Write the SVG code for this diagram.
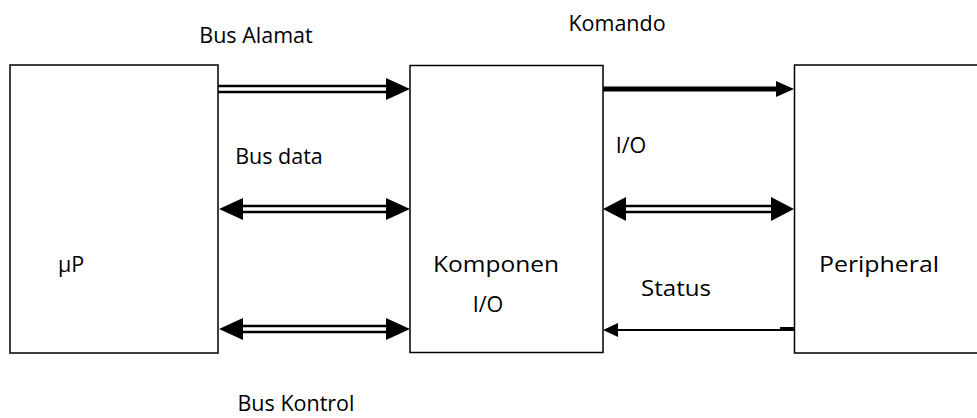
<svg xmlns="http://www.w3.org/2000/svg" width="977" height="418" viewBox="0 0 977 418">
<style>
.box{fill:#fff;stroke:#000;stroke-width:1.5}
.t{font-family:"Open Sans","Liberation Sans",sans-serif;font-size:21.5px;fill:#000;text-anchor:middle}
.dbl{stroke:#000;stroke-width:2.5}
</style>
<rect width="977" height="418" fill="#fff"/>
<g id="up"><rect class="box" x="10" y="65" width="208" height="288"/><text class="t" x="71" y="272">μP</text></g>
<g id="komponen"><rect class="box" x="410" y="65.5" width="193" height="287"/><text class="t" x="496" y="272" textLength="126" lengthAdjust="spacingAndGlyphs">Komponen</text><text class="t" x="488" y="312">I/O</text></g>
<g id="peripheral"><rect class="box" x="794.5" y="65" width="190" height="288"/><text class="t" x="879" y="272" textLength="120" lengthAdjust="spacingAndGlyphs">Peripheral</text></g>
<g id="connectors">
<line class="dbl" x1="218" y1="86" x2="390" y2="86"/><line class="dbl" x1="218" y1="92" x2="390" y2="92"/>
<polygon points="386,78 410,89 386,100"/>
<line class="dbl" x1="240" y1="206" x2="390" y2="206"/><line class="dbl" x1="240" y1="212" x2="390" y2="212"/>
<polygon points="243,198 219,209 243,220"/><polygon points="386,198 410,209 386,220"/>
<line class="dbl" x1="240" y1="326" x2="390" y2="326"/><line class="dbl" x1="240" y1="332" x2="390" y2="332"/>
<polygon points="243,318 219,329 243,340"/><polygon points="386,318 410,329 386,340"/>
<line x1="603" y1="89" x2="780" y2="89" stroke="#000" stroke-width="5"/>
<polygon points="776,81 794,89 776,97"/>
<line class="dbl" x1="620" y1="206" x2="780" y2="206"/><line class="dbl" x1="620" y1="212" x2="780" y2="212"/>
<polygon points="626,197 603,209 626,221"/><polygon points="771,197 794,209 771,221"/>
<line x1="615" y1="330" x2="794" y2="330" stroke="#000" stroke-width="2"/>
<line x1="780" y1="328" x2="794" y2="328" stroke="#000" stroke-width="2"/>
<polygon points="618,323 603,330 618,337"/>
</g>
<g id="labels">
<text class="t" x="256" y="43">Bus Alamat</text>
<text class="t" x="617" y="31">Komando</text>
<text class="t" x="279" y="164">Bus data</text>
<text class="t" x="631" y="153">I/O</text>
<text class="t" x="676" y="296" textLength="70" lengthAdjust="spacingAndGlyphs">Status</text>
<text class="t" x="296" y="411">Bus Kontrol</text>
</g>
</svg>
